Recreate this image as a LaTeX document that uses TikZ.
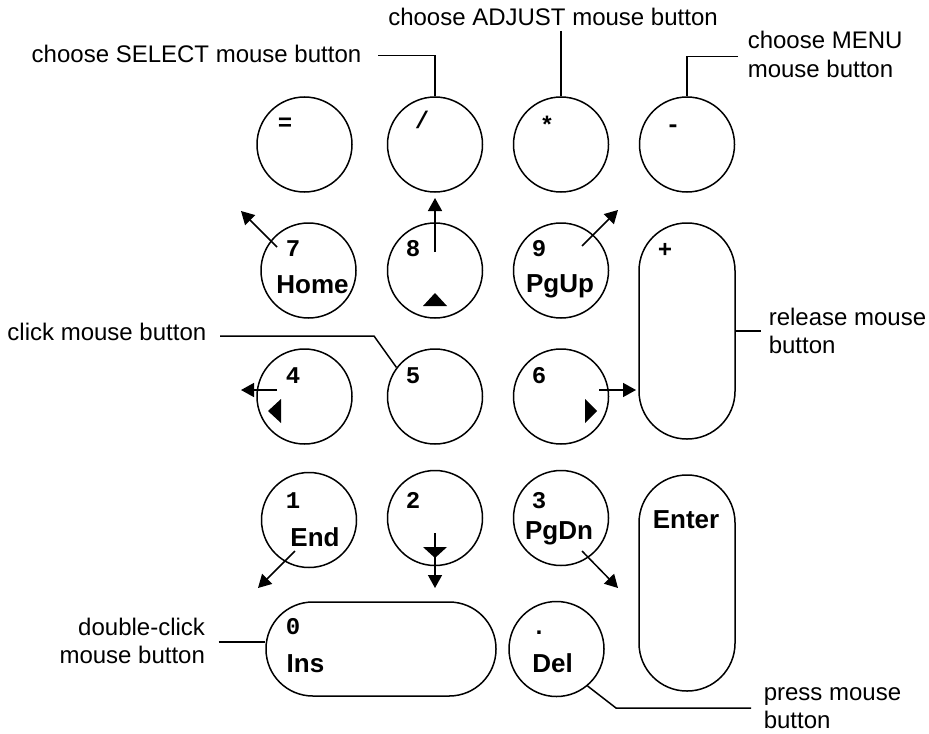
\documentclass[tikz,border=0pt]{standalone}
\usepackage{fontspec}
\setmainfont{Liberation Sans}
\setmonofont{Liberation Mono}
\usetikzlibrary{arrows.meta}

\tikzset{
    key/.style={draw, circle, minimum size=47.5pt, inner sep=0pt},
    longkey/.style={draw, rectangle, rounded corners=23.9pt, minimum width=48pt, minimum height=108pt, inner sep=0pt},
    widekey/.style={draw, rectangle, rounded corners=23.4pt, minimum width=115pt, minimum height=47pt, inner sep=0pt},
    keynum/.style={font=\ttfamily\bfseries\fontsize{12}{14}\selectfont, anchor=base, inner sep=0pt},
    keyname/.style={font=\bfseries\fontsize{13}{15}\selectfont, anchor=base, inner sep=0pt},
    note/.style={font=\fontsize{12}{14.4}\selectfont, inner sep=0pt},
    move/.style={-{Triangle[length=6.5pt,width=7pt]}},
}

\begin{document}
\begin{tikzpicture}[x=0.5pt, y=-0.5pt, line width=0.75pt]
    \useasboundingbox (0,0) rectangle (929,733);

    \node[key] (keq) at (304.5,144.5) {};
    \node[key] (kslash) at (435,144.5) {};
    \node[key] (kstar) at (561,144.5) {};
    \node[key] (kminus) at (687,144.5) {};

    \node[key] (k7) at (308.5,270.5) {};
    \node[key] (k8) at (435,270.5) {};
    \node[key] (k9) at (561,270.5) {};
    \node[longkey] (kplus) at (687,331) {};

    \node[key] (k4) at (304.5,396.5) {};
    \node[key] (k5) at (435,396.5) {};
    \node[key] (k6) at (561,396.5) {};

    \node[key] (k1) at (309,520) {};
    \node[key] (k2) at (435,518) {};
    \node[key] (k3) at (561,518) {};
    \node[longkey] (kenter) at (687,583) {};

    \node[widekey] (k0) at (381,649) {};
    \node[key] (kdel) at (556.5,649) {};

    \node[keynum] (leq) at (285,130) {=};
    \node[keynum] (lslash) at (422,128) {/};
    \node[keynum] (lstar) at (547,133) {*};
    \node[keynum] (lminus) at (673,132) {-};
    \node[keynum] (l7) at (293,256) {7};
    \node[keynum] (l8) at (413,256) {8};
    \node[keynum] (l9) at (539,256.5) {9};
    \node[keynum] (lplus) at (665,257) {+};
    \node[keynum] (l4) at (293,383) {4};
    \node[keynum] (l5) at (413,383) {5};
    \node[keynum] (l6) at (539,383) {6};
    \node[keynum] (l1) at (293,508) {1};
    \node[keynum] (l2) at (413,508) {2};
    \node[keynum] (l3) at (539,508) {3};
    \node[keynum] (l0) at (293,634) {0};
    \node[keynum] (ldot) at (539,634) {.};

    \node[keyname] (nhome) at (312.5,293) {Home};
    \node[keyname] (npgup) at (560,292) {PgUp};
    \node[keyname] (nend) at (315,546) {End};
    \node[keyname] (npgdn) at (559,539) {PgDn};
    \node[keyname] (nenter) at (686,528) {Enter};
    \node[keyname] (nins) at (305.5,672) {Ins};
    \node[keyname] (ndel) at (552.5,672) {Del};

    \fill (k8) ++(-12,35.5) -- ++(24,0) -- ++(-12,-13) -- cycle;
    \fill (k4) ++(-23.5,2.5) -- ++(0,24) -- ++(-13,-12) -- cycle;
    \fill (k6) ++(24,2.5) -- ++(0,24) -- ++(12,-12) -- cycle;
    \fill (k2) ++(-12,29) -- ++(24,0) -- ++(-12,11) -- cycle;

    \draw[move] (k7) ++(-31.5,-23.5) -- ++(-36,-36);
    \draw[move] (k8) ++(0,-18.5) -- ++(0,-54);
    \draw[move] (k9) ++(21,-24.5) -- ++(36,-36);
    \draw[move] (k4) ++(-27.5,-6.5) -- ++(-36,0);
    \draw[move] (k6) ++(38,-6.5) -- ++(37,0);
    \draw[move] (k1) ++(-14,31) -- ++(-37,37);
    \draw[move] (k2) ++(0,15) -- ++(0,55);
    \draw[move] (k3) ++(21,33) -- ++(36,37);

    \node[note, anchor=base] (adjust) at (553,26) {choose ADJUST mouse button};
    \node[note, anchor=base east] (select) at (362,62.3) {choose SELECT mouse button};
    \node[note, anchor=base west] (menu) at (747,48.3) {\begin{tabular}[t]{@{}l@{}}choose MENU\\mouse button\end{tabular}};
    \node[note, anchor=base west] (release) at (768,325) {\begin{tabular}[t]{@{}l@{}}release mouse\\button\end{tabular}};
    \node[note, anchor=base east] (click) at (207,340) {click mouse button};
    \node[note, anchor=base east] (dblclick) at (205.7,635) {\begin{tabular}[t]{@{}r@{}}double-click\\mouse button\end{tabular}};
    \node[note, anchor=base west] (press) at (763,700) {\begin{tabular}[t]{@{}l@{}}press mouse\\button\end{tabular}};

    \coordinate (pressbend) at (616,708);

    \draw ([yshift=-2pt]kstar.north |- adjust.south) -- (kstar.north);
    \draw ([shift={(8pt,3.5pt)}]select.base east) -| (kslash.north);
    \draw ([shift={(-4.5pt,-4pt)}]menu.base west) -| (kminus.north);
    \draw (kplus.east) -- ([xshift=-3.5pt]release.base west |- kplus.east);
    \draw ([shift={(6.5pt,2pt)}]click.base east) -- ++(154,0) -- (k5.143);
    \draw ([shift={(6.5pt,-3.5pt)}]dblclick.base east) coordinate (dblend) -- (dblend -| k0.west);
    \draw (kdel.-50) -- (pressbend) -- ([shift={(-6pt,-4pt)}]press.base west);
\end{tikzpicture}
\end{document}
